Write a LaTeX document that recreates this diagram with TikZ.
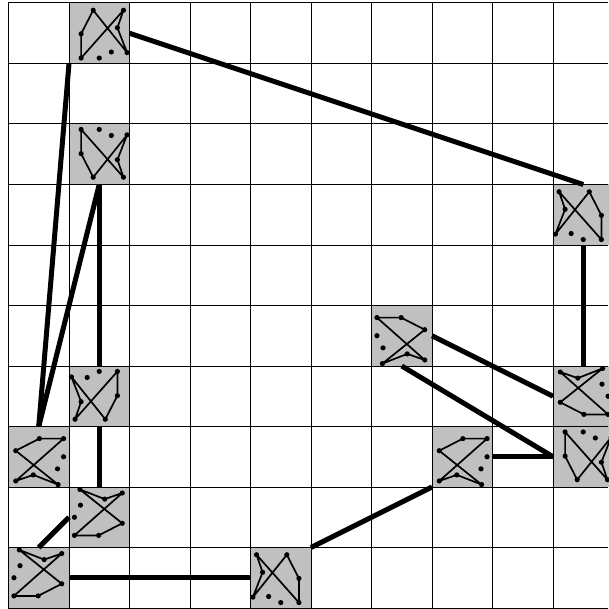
\documentclass[tikz,border=0pt]{standalone}
\tikzset{
  tilebox/.style={rectangle,fill=tilegrey,minimum width=60.5pt,minimum height=60.5pt,inner sep=0pt,outer sep=0pt},
  gridline/.style={line width=1pt,black},
  link/.style={line width=5pt,black},
  gedge/.style={line width=1.7pt,black},
  gid/.style={shift={(#1.north west)},x={(60.5pt,0pt)},y={(0pt,-60.5pt)}},
  gyflip/.style={shift={(#1.south west)},x={(60.5pt,0pt)},y={(0pt,60.5pt)}},
  gxflip/.style={shift={(#1.north east)},x={(-60.5pt,0pt)},y={(0pt,-60.5pt)}},
  grot/.style={shift={(#1.south east)},x={(-60.5pt,0pt)},y={(0pt,60.5pt)}},
  gtrans/.style={shift={(#1.north west)},x={(0pt,-60.5pt)},y={(60.5pt,0pt)}},
  gxtrans/.style={shift={(#1.north east)},x={(0pt,-60.5pt)},y={(-60.5pt,0pt)}},
  ganti/.style={shift={(#1.south east)},x={(0pt,60.5pt)},y={(-60.5pt,0pt)}},
  gxanti/.style={shift={(#1.south west)},x={(0pt,60.5pt)},y={(60.5pt,0pt)}},
}
\definecolor{tilegrey}{HTML}{C0C0C0}
\newcommand{\glyph}[2]{%
  \begin{scope}[#1={#2}]
    \draw[gedge,line join=round] (.4,.12) -- (.2,.51) -- (.2,.91) -- (.9,.12) -- (.8,.41) -- (.96,.82) -- cycle;
    \foreach \p in {(.4,.12),(.9,.12),(.8,.41),(.2,.51),(.96,.82),(.2,.91),(.5,.91),(.7,.81)}
      \fill \p circle[radius=2.6pt];
  \end{scope}}
\newcommand{\tile}[3]{\node[tilebox] (#1) at ({8.5+60.5*#2+30.25},{3+60.5*#3+30.25}) {};}
\begin{document}
\begin{tikzpicture}[x=1pt,y=-1pt]
\useasboundingbox (0,0) rectangle (608,609);
\tile{a}{1}{0}
\tile{b}{1}{2}
\tile{c}{9}{3}
\tile{d}{6}{5}
\tile{e}{1}{6}
\tile{f}{9}{6}
\tile{g}{0}{7}
\tile{h}{7}{7}
\tile{i}{9}{7}
\tile{j}{1}{8}
\tile{k}{0}{9}
\tile{l}{4}{9}
\foreach \i in {0,...,9} \draw[gridline] (8.5+60.5*\i,2.5) -- (8.5+60.5*\i,608.5);
\foreach \i in {0,...,10} \draw[gridline] (8,3+60.5*\i) -- (608,3+60.5*\i);
\draw[link] (a.east) -- (c.north);
\draw[link] (a.south west) -- (g.north);
\draw[link] (b.south) -- (g.north);
\draw[link] (b.south) -- (e.north);
\draw[link] (e.south) -- (j.north);
\draw[link] (c.south) -- (f.north);
\draw[link] (d.east) -- (f.west);
\draw[link] (d.south) -- (i.west);
\draw[link] (h.east) -- (i.west);
\draw[link] (l.north east) -- (h.south west);
\draw[link] (j.west) -- (k.north);
\draw[link] (k.east) -- (l.west);
\glyph{gid}{a}
\glyph{gyflip}{b}
\glyph{gxflip}{c}
\glyph{gxtrans}{d}
\glyph{grot}{e}
\glyph{gxanti}{f}
\glyph{gtrans}{g}
\glyph{gtrans}{h}
\glyph{gyflip}{i}
\glyph{ganti}{j}
\glyph{ganti}{k}
\glyph{gxflip}{l}
\end{tikzpicture}
\end{document}
